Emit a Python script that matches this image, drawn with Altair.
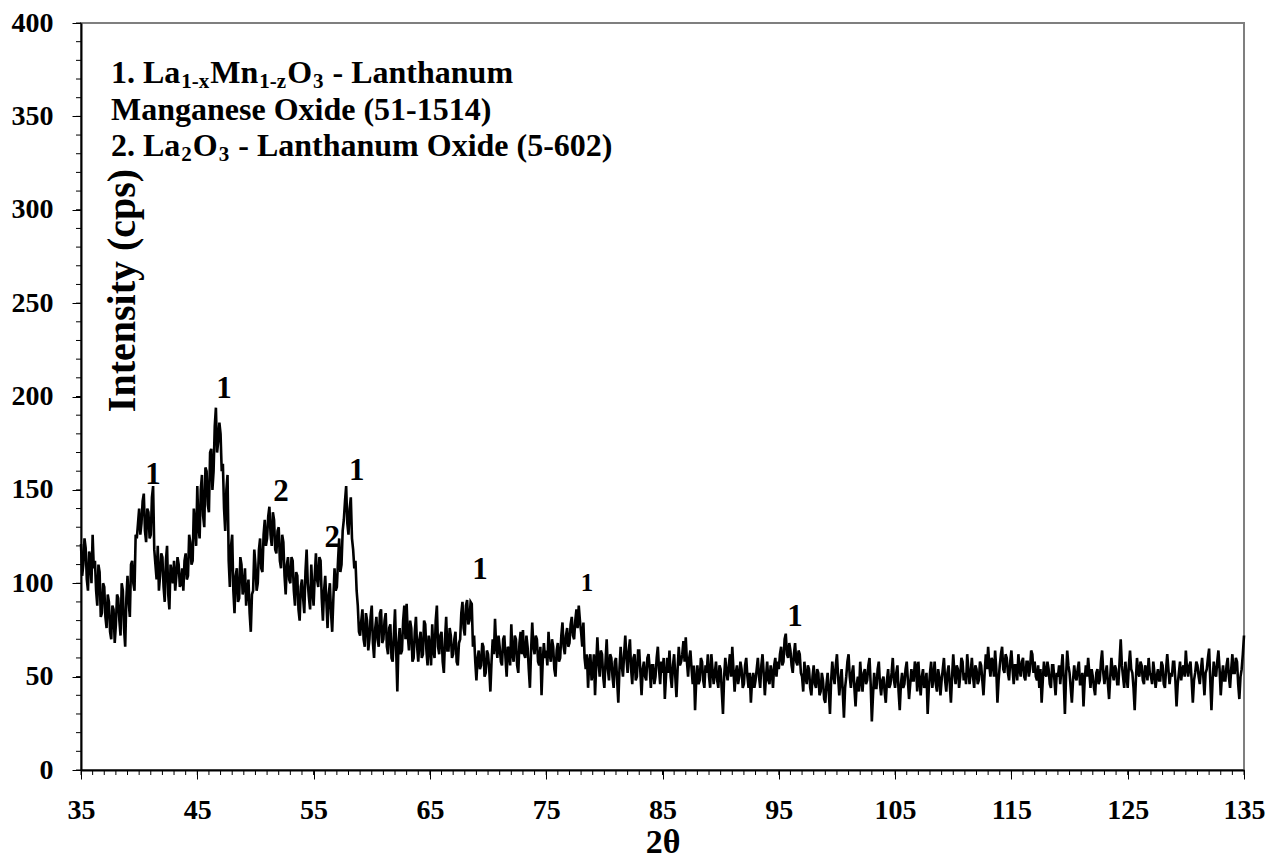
import altair as alt
import numpy as np
import pandas as pd

# ---- XRD scan: 2-theta from 35 to 135 deg, step 0.1 deg ----
SCAN_START = 35.0
SCAN_STEP = 0.1

counts_35_45 = [
    121, 104, 110, 124, 119, 102, 96, 117, 114, 100, 126, 108, 112, 96, 88, 110, 106, 82, 84, 100,
    98, 82, 76, 94, 90, 74, 70, 88, 86, 68, 78, 94, 92, 80, 72, 100, 96, 76, 66, 92,
    104, 90, 82, 110, 112, 100, 96, 126, 124, 132, 140, 126, 132, 144, 148, 128, 122, 140, 138, 124,
    126, 146, 152, 118, 110, 102, 120, 96, 104, 116, 114, 98, 90, 112, 120, 94, 86, 110, 106, 100,
    112, 96, 104, 114, 110, 98, 100, 108, 96, 112, 116, 102, 104, 126, 122, 110, 112, 140, 132, 120,
]
counts_45_55 = [
    152, 130, 124, 150, 158, 136, 130, 162, 160, 142, 138, 170, 172, 150, 160, 184, 194, 170, 176, 186,
    180, 160, 164, 140, 128, 150, 158, 112, 98, 120, 126, 96, 84, 104, 108, 90, 92, 114, 110, 94,
    98, 108, 88, 96, 102, 84, 74, 94, 96, 118, 110, 96, 100, 118, 124, 108, 106, 126, 134, 120,
    124, 136, 141, 126, 120, 138, 134, 118, 116, 128, 130, 112, 108, 126, 122, 104, 94, 110, 114, 102,
    100, 114, 112, 96, 88, 106, 104, 86, 80, 98, 102, 92, 84, 106, 118, 100, 92, 86, 110, 96,
]
counts_55_65 = [
    88, 104, 116, 102, 98, 114, 112, 92, 80, 96, 104, 90, 76, 94, 100, 84, 74, 92, 108, 96,
    98, 112, 124, 106, 110, 128, 134, 144, 152, 132, 126, 140, 146, 124, 118, 108, 112, 96, 88, 74,
    72, 80, 86, 70, 66, 84, 80, 64, 70, 82, 88, 68, 60, 76, 82, 70, 66, 84, 86, 68,
    70, 80, 84, 66, 62, 76, 78, 60, 58, 72, 86, 64, 42, 68, 76, 62, 64, 80, 88, 70,
    89, 72, 64, 80, 76, 58, 60, 74, 82, 66, 58, 70, 74, 60, 62, 80, 78, 64, 56, 72,
]
counts_65_75 = [
    66, 56, 78, 64, 60, 80, 88, 66, 62, 72, 74, 58, 52, 70, 82, 64, 64, 76, 72, 60,
    62, 70, 74, 58, 56, 68, 70, 84, 90, 76, 72, 88, 91, 78, 80, 90, 89, 66, 72, 58,
    48, 60, 64, 54, 56, 68, 66, 50, 52, 64, 62, 54, 42, 58, 70, 62, 81, 66, 60, 72,
    66, 58, 56, 70, 72, 60, 50, 66, 64, 56, 78, 62, 58, 72, 70, 56, 52, 68, 74, 62,
    75, 62, 60, 72, 66, 54, 44, 64, 79, 66, 62, 72, 70, 58, 56, 66, 40, 58, 68, 60,
]
counts_75_85 = [
    64, 56, 74, 62, 58, 70, 66, 54, 50, 64, 68, 58, 60, 72, 79, 66, 62, 72, 76, 66,
    68, 78, 82, 72, 70, 80, 86, 76, 88, 80, 74, 66, 79, 60, 54, 62, 44, 58, 62, 48,
    52, 62, 40, 56, 71, 58, 50, 64, 62, 50, 44, 58, 70, 54, 48, 62, 60, 50, 44, 58,
    60, 48, 36, 54, 66, 56, 50, 62, 72, 60, 52, 64, 70, 54, 46, 60, 62, 48, 50, 64,
    64, 52, 40, 54, 58, 50, 48, 60, 62, 54, 44, 56, 56, 46, 50, 60, 66, 54, 46, 58,
]
counts_85_95 = [
    52, 60, 38, 50, 60, 52, 64, 50, 44, 56, 62, 50, 39, 54, 66, 56, 58, 62, 69, 58,
    71, 58, 50, 60, 64, 54, 46, 56, 32, 48, 56, 46, 48, 60, 58, 48, 44, 56, 52, 62,
    50, 44, 62, 54, 46, 52, 58, 48, 44, 56, 54, 42, 30, 50, 60, 52, 48, 56, 62, 50,
    66, 54, 42, 52, 56, 46, 50, 58, 54, 44, 46, 56, 60, 50, 44, 52, 36, 48, 52, 44,
    48, 54, 60, 50, 44, 56, 62, 52, 40, 50, 58, 48, 46, 56, 52, 44, 56, 60, 50, 58,
]
counts_95_105 = [
    54, 62, 66, 56, 58, 70, 73, 62, 60, 68, 64, 56, 52, 62, 68, 58, 56, 64, 62, 52,
    50, 42, 58, 50, 46, 56, 54, 44, 40, 50, 56, 46, 44, 54, 52, 40, 42, 52, 48, 38,
    36, 46, 52, 42, 30, 48, 58, 50, 46, 56, 62, 50, 40, 48, 54, 42, 28, 44, 50, 58,
    62, 50, 44, 52, 56, 44, 34, 46, 50, 42, 58, 48, 42, 52, 54, 46, 48, 56, 60, 46,
    26, 40, 52, 44, 44, 54, 58, 46, 40, 48, 50, 42, 36, 48, 54, 44, 46, 52, 60, 48,
]
counts_105_115 = [
    44, 52, 56, 42, 32, 46, 52, 44, 46, 54, 58, 48, 38, 46, 54, 48, 48, 58, 56, 42,
    58, 48, 40, 50, 54, 44, 46, 52, 30, 44, 52, 58, 44, 50, 58, 46, 42, 54, 50, 40,
    48, 54, 60, 48, 42, 52, 56, 46, 36, 50, 62, 52, 46, 56, 54, 44, 50, 60, 58, 48,
    52, 46, 62, 54, 46, 52, 60, 50, 44, 56, 54, 46, 48, 58, 56, 48, 40, 52, 62, 54,
    66, 56, 50, 60, 58, 50, 64, 54, 36, 48, 56, 62, 66, 54, 52, 62, 60, 52, 48, 58,
]
counts_115_125 = [
    64, 54, 46, 56, 56, 48, 62, 54, 50, 58, 60, 50, 48, 58, 58, 50, 54, 64, 62, 52,
    58, 50, 48, 56, 44, 54, 36, 48, 58, 52, 50, 58, 54, 46, 44, 56, 56, 48, 40, 52,
    50, 56, 46, 54, 62, 48, 30, 50, 64, 56, 52, 44, 36, 48, 56, 50, 48, 54, 58, 46,
    46, 52, 34, 48, 56, 50, 60, 52, 44, 54, 50, 44, 40, 52, 54, 46, 48, 58, 64, 52,
    46, 52, 56, 46, 38, 50, 60, 52, 48, 56, 54, 46, 46, 58, 70, 56, 50, 44, 58, 50,
]
counts_125_135 = [
    44, 56, 64, 54, 52, 44, 32, 48, 60, 52, 50, 58, 56, 48, 46, 56, 54, 48, 60, 52,
    50, 46, 58, 52, 44, 50, 54, 48, 48, 58, 56, 46, 44, 54, 62, 54, 46, 52, 50, 58,
    58, 48, 34, 46, 52, 58, 48, 54, 56, 50, 64, 54, 50, 56, 58, 48, 36, 48, 52, 58,
    56, 50, 46, 54, 60, 50, 40, 52, 54, 60, 65, 48, 32, 48, 58, 52, 50, 58, 64, 54,
    40, 50, 56, 48, 48, 56, 60, 50, 44, 54, 62, 52, 52, 60, 58, 46, 38, 50, 54, 62,
    72,
]

intensity = (counts_35_45 + counts_45_55 + counts_55_65 + counts_65_75
             + counts_75_85 + counts_85_95 + counts_95_105 + counts_105_115
             + counts_115_125 + counts_125_135)
two_theta = np.round(SCAN_START + SCAN_STEP * np.arange(len(intensity)), 2)

# ---- phase markers above the reflections ----
peak_2theta = [41.2, 47.3, 52.2, 56.6, 58.7, 69.3, 96.4]
peak_height = [158, 204, 149, 124, 160, 107, 82]
peak_phase = ["1", "1", "2", "2", "1", "1", "1"]
weak_2theta = [78.5]
weak_height = [100]
weak_phase = ["1"]

# ---- axis ticks ----
x_major = list(range(35, 136, 10))
x_minor = list(range(35, 136, 1))
y_major = list(range(0, 401, 50))
y_minor = list(range(0, 401, 10))

FONT = "Liberation Serif"
W, H = 1163, 747
X_DOM = [35, 135]
Y_DOM = [0, 400]

xs = alt.Scale(domain=X_DOM, nice=False, zero=False)
ys = alt.Scale(domain=Y_DOM, nice=False)

scan = pd.DataFrame({"two_theta": two_theta, "intensity": intensity})

line = alt.Chart(scan).mark_line(color="black", strokeWidth=2.6).encode(
    x=alt.X("two_theta:Q", scale=xs, axis=alt.Axis(
        values=x_major, title="2θ", grid=False,
        labelFont=FONT, labelFontSize=28, labelFontWeight="bold", labelColor="black",
        labelBaseline="middle", labelPadding=31, labelFlush=False, labelOverlap=False,
        tickSize=9, tickColor="black", tickWidth=1,
        domainColor="black", domainWidth=2,
        titleFont=FONT, titleFontSize=34, titleFontWeight="bold", titleColor="black",
        titleBaseline="middle", titleY=72,
    )),
    y=alt.Y("intensity:Q", scale=ys, axis=alt.Axis(
        values=y_major, title="Intensity (cps)", grid=False,
        labelFont=FONT, labelFontSize=28, labelFontWeight="bold", labelColor="black",
        labelPadding=19, labelFlush=False, labelOverlap=False,
        tickSize=9, tickColor="black", tickWidth=1,
        domainColor="black", domainWidth=2,
        titleFont=FONT, titleFontSize=40, titleFontWeight="bold", titleColor="black",
        titleAngle=270, titleAlign="center", titleBaseline="middle",
        titleX=41, titleY=267,
    )),
)

# minor ticks along the bottom and left axes
xminor = alt.Chart(pd.DataFrame({"t": x_minor})).mark_rule(color="black", strokeWidth=1).encode(
    x=alt.X("t:Q", scale=xs, axis=None),
    y=alt.value(H), y2=alt.value(H + 5),
)
yminor = alt.Chart(pd.DataFrame({"v": y_minor})).mark_rule(color="black", strokeWidth=1).encode(
    y=alt.Y("v:Q", scale=ys, axis=None),
    x=alt.value(-5), x2=alt.value(0),
)

peaks = pd.DataFrame({"x": peak_2theta, "y": peak_height, "phase": peak_phase})
peak_text = alt.Chart(peaks).mark_text(
    font=FONT, fontSize=31, fontWeight="bold", color="black", baseline="middle", align="center"
).encode(
    x=alt.X("x:Q", scale=xs, axis=None),
    y=alt.Y("y:Q", scale=ys, axis=None),
    text="phase:N",
)
weak = pd.DataFrame({"x": weak_2theta, "y": weak_height, "phase": weak_phase})
weak_text = alt.Chart(weak).mark_text(
    font=FONT, fontSize=25, fontWeight="bold", color="black", baseline="middle", align="center"
).encode(
    x=alt.X("x:Q", scale=xs, axis=None),
    y=alt.Y("y:Q", scale=ys, axis=None),
    text="phase:N",
)

# ---- phase key in the upper-left corner (with subscripts) ----
ADV = {  # advance widths (em) of Liberation Serif Bold
    "0": .5, "1": .5, "2": .5, "3": .5, "4": .5, "5": .5, "6": .5,
    ".": .25, " ": .25, "-": .333, "(": .333, ")": .333,
    "L": .667, "M": .944, "O": .778,
    "a": .5, "d": .556, "e": .444, "g": .5, "h": .556, "i": .278, "m": .833,
    "n": .556, "s": .389, "t": .333, "u": .556, "x": .5, "z": .444,
}
MAIN_FS, SUB_FS, SUB_DROP = 32, 21, 5
KEY_X = 30
key_lines = [
    (60, [("1. La", False), ("1-x", True), ("Mn", False), ("1-z", True),
          ("O", False), ("3", True), (" - Lanthanum", False)]),
    (97, [("Manganese Oxide (51-1514)", False)]),
    (133, [("2. La", False), ("2", True), ("O", False), ("3", True),
           (" - Lanthanum Oxide (5-602)", False)]),
]

key_layers = []
for base, segs in key_lines:
    cx = KEY_X
    for txt, sub in segs:
        fs = SUB_FS if sub else MAIN_FS
        # leading blanks are collapsed in SVG text, so advance past them here
        lead = len(txt) - len(txt.lstrip(" "))
        cx += lead * ADV[" "] * fs
        body = txt.lstrip(" ")
        key_layers.append(
            alt.Chart(pd.DataFrame({"s": [body]})).mark_text(
                font=FONT, fontSize=fs, fontWeight="bold", color="black",
                align="left", baseline="alphabetic",
            ).encode(
                text="s:N",
                x=alt.value(cx),
                y=alt.value(base + (SUB_DROP if sub else 0)),
            )
        )
        cx += sum(ADV.get(c, .5) for c in body) * fs + 1

chart = alt.layer(line, xminor, yminor, peak_text, weak_text, *key_layers).resolve_axis(
    x="independent", y="independent"
).properties(
    width=W, height=H,
    padding={"left": 81, "top": 23, "right": 27, "bottom": 88},
    autosize=alt.AutoSizeParams(type="none"),
    background="white",
).configure_view(stroke="#7f7f7f", strokeWidth=2)

chart.save("out.html", embed_options={"renderer": "svg", "actions": False})
